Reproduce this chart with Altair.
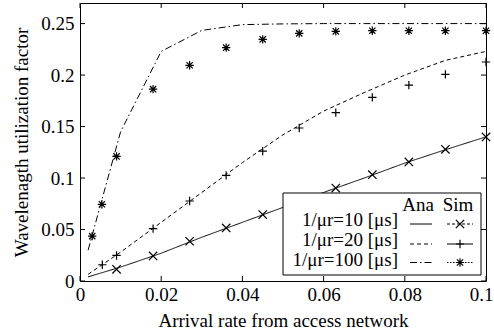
import altair as alt
import pandas as pd

# ---------------- data ----------------
x_ana = [0.002, 0.01, 0.02, 0.03, 0.04, 0.05, 0.06, 0.07, 0.08, 0.09, 0.1]
ana_10 = [0.004, 0.0135, 0.027, 0.0425, 0.057, 0.0715, 0.086, 0.100, 0.1145, 0.1275, 0.140]
ana_20 = [0.0065, 0.028, 0.057, 0.086, 0.115, 0.142, 0.165, 0.183, 0.200, 0.2143, 0.223]
ana_100 = [0.030, 0.145, 0.223, 0.2434, 0.249, 0.2497, 0.25, 0.25, 0.25, 0.25, 0.25]

x_sim_10 = [0.009, 0.018, 0.027, 0.036, 0.045, 0.054, 0.063, 0.072, 0.081, 0.09, 0.1]
sim_10 = [0.0113, 0.0243, 0.0386, 0.0515, 0.0645, 0.0777, 0.0903, 0.1033, 0.1156, 0.1279, 0.1399]
x_sim_20 = [0.0055, 0.009, 0.018, 0.027, 0.036, 0.045, 0.054, 0.063, 0.072, 0.081, 0.09, 0.1]
sim_20 = [0.0158, 0.0248, 0.0509, 0.0777, 0.1026, 0.1262, 0.1486, 0.1635, 0.1784, 0.1903, 0.2007, 0.2127]
x_sim_100 = [0.003, 0.0054, 0.009, 0.018, 0.027, 0.036, 0.045, 0.054, 0.063, 0.072, 0.081, 0.09, 0.1]
sim_100 = [0.0436, 0.0745, 0.121, 0.1863, 0.2095, 0.2266, 0.2347, 0.2405, 0.2425, 0.2431, 0.2431, 0.2431, 0.2431]

x_ticks = [0, 0.02, 0.04, 0.06, 0.08, 0.1]
y_ticks = [0, 0.05, 0.1, 0.15, 0.2, 0.25]

legend_labels = ["1/\u03bcr=10 [\u03bcs]", "1/\u03bcr=20 [\u03bcs]", "1/\u03bcr=100 [\u03bcs]"]
legend_header = ["Ana", "Sim"]

# ---------------- style ----------------
W, H = 406, 278
FONT = "Liberation Serif"
FS = 19
XMAX, YMAX = 0.1, 0.27

SHAPE_X = "M-1,-1L1,1M-1,1L1,-1"
SHAPE_PLUS = "M-1,0L1,0M0,-1L0,1"
SHAPE_AST = "M-1,0L1,0M0,-1L0,1M-0.75,-0.75L0.75,0.75M-0.75,0.75L0.75,-0.75"

DASH_ANA = [[1, 0], [4, 3], [7, 3, 1.5, 3]]
SHAPES = [SHAPE_X, SHAPE_PLUS, SHAPE_AST]
DASH_SIM = [[3, 2], [1, 0], [1.5, 1.5]]

xs = alt.Scale(domain=[0, XMAX], nice=False, zero=False)
ys = alt.Scale(domain=[0, YMAX], nice=False, zero=False)

LAST = "datum.value >= 0.099"
x_axis = alt.Axis(values=x_ticks, format="~g", ticks=False, domain=False, grid=False,
                  labelFont=FONT, labelFontSize=FS, labelColor="black", labelPadding=4,
                  labelAlign={"condition": {"test": LAST, "value": "right"}, "value": "center"},
                  labelOffset={"condition": {"test": LAST, "value": 7}, "value": 0},
                  title="Arrival rate from access network", titleFont=FONT, titleFontSize=FS,
                  titleFontWeight="normal", titleColor="black", titlePadding=7, labelFlush=False)
y_axis = alt.Axis(values=y_ticks, format="~g", ticks=False, domain=False, grid=False,
                  labelFont=FONT, labelFontSize=FS, labelColor="black", labelPadding=6,
                  title="Wavelenagth utilization factor", titleFont=FONT, titleFontSize=FS,
                  titleFontWeight="normal", titleColor="black", titlePadding=9, labelFlush=False)


def X(field="x"):
    return alt.X(f"{field}:Q", scale=xs, axis=x_axis)


def Y(field="y"):
    return alt.Y(f"{field}:Q", scale=ys, axis=y_axis)


layers = []

# analytic lines
ana_series = [ana_10, ana_20, ana_100]
for i, vals in enumerate(ana_series):
    df = pd.DataFrame({"x": x_ana, "y": vals})
    layers.append(alt.Chart(df).mark_line(color="black", strokeWidth=1, strokeDash=DASH_ANA[i])
                  .encode(x=X(), y=Y()))

# simulation markers
sim_series = [(x_sim_10, sim_10), (x_sim_20, sim_20), (x_sim_100, sim_100)]
for i, (sx, sv) in enumerate(sim_series):
    df = pd.DataFrame({"x": sx, "y": sv})
    layers.append(alt.Chart(df).mark_point(shape=SHAPES[i], filled=False, color="black",
                                           strokeWidth=1.2, size=70, opacity=1)
                  .encode(x=X(), y=Y()))

# inward ticks on all four sides
xt = pd.DataFrame({"x": x_ticks})
yt = pd.DataFrame({"y": y_ticks})
TL = 5
layers.append(alt.Chart(xt).mark_rule(color="black", strokeWidth=1).encode(
    x=X(), y=alt.value(H), y2=alt.value(H - TL)))
layers.append(alt.Chart(xt).mark_rule(color="black", strokeWidth=1).encode(
    x=X(), y=alt.value(0), y2=alt.value(TL)))
layers.append(alt.Chart(yt).mark_rule(color="black", strokeWidth=1).encode(
    y=Y(), x=alt.value(0), x2=alt.value(TL)))
layers.append(alt.Chart(yt).mark_rule(color="black", strokeWidth=1).encode(
    y=Y(), x=alt.value(W), x2=alt.value(W - TL)))

# ---------------- legend ----------------
one = pd.DataFrame({"k": [0]})
layers.append(alt.Chart(one).mark_rect(fill="white", stroke="black", strokeWidth=1).encode(
    x=alt.value(203), x2=alt.value(401), y=alt.value(190), y2=alt.value(272)))

hdr_x = [338, 378]
for j, h in enumerate(legend_header):
    layers.append(alt.Chart(pd.DataFrame({"t": [h]})).mark_text(
        font=FONT, fontSize=FS, color="black", align="center", baseline="alphabetic").encode(
        text="t:N", x=alt.value(hdr_x[j]), y=alt.value(207.5)))

row_text_y = [222.5, 242.5, 263]
row_line_y = [221, 241, 259.5]
for i, lab in enumerate(legend_labels):
    layers.append(alt.Chart(pd.DataFrame({"t": [lab]})).mark_text(
        font=FONT, fontSize=FS, color="black", align="right", baseline="alphabetic").encode(
        text="t:N", x=alt.value(318), y=alt.value(row_text_y[i])))
    layers.append(alt.Chart(one).mark_rule(color="black", strokeWidth=1, strokeDash=DASH_ANA[i]).encode(
        x=alt.value(330), x2=alt.value(352), y=alt.value(row_line_y[i])))
    layers.append(alt.Chart(one).mark_rule(color="black", strokeWidth=1, strokeDash=DASH_SIM[i]).encode(
        x=alt.value(367), x2=alt.value(393), y=alt.value(row_line_y[i])))
    layers.append(alt.Chart(one).mark_point(shape=SHAPES[i], filled=False, color="black",
                                            strokeWidth=1.2, size=70, opacity=1).encode(
        x=alt.value(380), y=alt.value(row_line_y[i])))

chart = alt.layer(*layers).properties(
    width=W, height=H,
    autosize=alt.AutoSizeParams(type="none"),
    padding={"left": 80, "top": 3, "right": 8, "bottom": 51},
    background="white",
).configure_view(stroke="black", strokeWidth=1)

chart.save("out.html", embed_options={"renderer": "svg", "actions": False})
